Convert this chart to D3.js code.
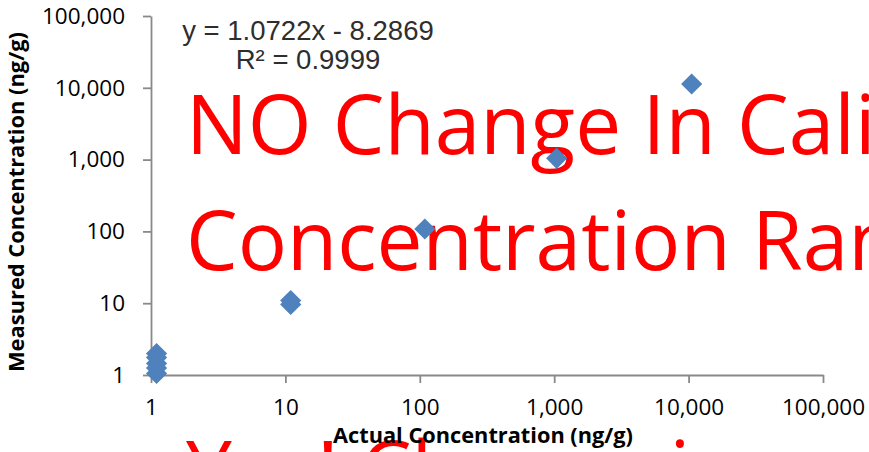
<!DOCTYPE html>
<html>
<head>
<meta charset="utf-8">
<script src="https://cdn.jsdelivr.net/npm/d3@7"></script>
<style>
  html, body { margin: 0; padding: 0; background: #ffffff; }
  svg { display: block; }
</style>
</head>
<body>
<svg id="chart" width="869" height="452"></svg>
<script>
// Calibration check: actual vs measured concentration, both on log axes
const actualConc   = [1.1, 1.1, 1.1, 1.1, 1.1, 10.95, 10.95, 109, 1043, 10540];
const measuredConc = [1.05, 1.25, 1.45, 1.75, 1.99, 9.6, 10.9, 108, 1043, 11300];

const xTickValues = [1, 10, 100, 1000, 10000, 100000];
const yTickValues = [1, 10, 100, 1000, 10000, 100000];

const xTitle = "Actual Concentration (ng/g)";
const yTitle = "Measured Concentration (ng/g)";
const trendLines = ["y = 1.0722x - 8.2869", "R\u00B2 = 0.9999"];
const noteLines = ["NO Change In Calibration", "Concentration Range", "", "Yes! Change in"];

const svg = d3.select("#chart");

const x = d3.scaleLog().domain([1, 100000]).range([151, 823]);
const y = d3.scaleLog().domain([1, 100000]).range([375, 16]);

const axisColor = "#898989";
const tickFont = "'Open Sans', 'Noto Sans', sans-serif";

// Large red annotation sits beneath the chart marks
const note = svg.append("g")
  .attr("font-family", "'Open Sans', 'Noto Sans', sans-serif")
  .attr("font-size", 82)
  .attr("fill", "#ff0000");
const noteBaselines = [154, 270, 386, 500];
noteLines.forEach((t, i) => {
  if (!t) return;
  note.append("text").attr("x", 186).attr("y", noteBaselines[i]).text(t);
});

// X axis
const xAxis = d3.axisBottom(x)
  .tickValues(xTickValues)
  .tickFormat(d3.format(","))
  .tickSize(8)
  .tickSizeOuter(0)
  .tickPadding(16);
const gx = svg.append("g").attr("transform", "translate(0,375)").call(xAxis);
gx.select(".domain").attr("stroke", axisColor).attr("stroke-width", 1.8);
gx.selectAll(".tick line").attr("stroke", axisColor).attr("stroke-width", 1.8);
gx.selectAll(".tick text")
  .attr("font-family", tickFont).attr("font-size", 22.5).attr("fill", "#000");

// Y axis
const yAxis = d3.axisLeft(y)
  .tickValues(yTickValues)
  .tickFormat(d3.format(","))
  .tickSize(8)
  .tickSizeOuter(0)
  .tickPadding(18);
const gy = svg.append("g").attr("transform", "translate(151,0)").call(yAxis);
gy.select(".domain").attr("stroke", axisColor).attr("stroke-width", 1.8);
gy.selectAll(".tick line").attr("stroke", axisColor).attr("stroke-width", 1.8);
gy.selectAll(".tick text")
  .attr("font-family", tickFont).attr("font-size", 22.5).attr("fill", "#000");

svg.selectAll(".domain").attr("fill", "none");

// Data markers: square diamonds
const r = 10.6;
const diamond = `M0,${-r}L${r},0L0,${r}L${-r},0Z`;
svg.append("g")
  .selectAll("path")
  .data(actualConc.map((a, i) => [a, measuredConc[i]]))
  .join("path")
  .attr("d", diamond)
  .attr("transform", d => `translate(${x(d[0])},${y(d[1])})`)
  .attr("fill", "#4f81bd");

// Trendline equation
const eq = svg.append("g")
  .attr("font-family", "'Liberation Sans', Arial, sans-serif")
  .attr("font-size", 27.5)
  .attr("fill", "#2e2e2e")
  .attr("text-anchor", "middle");
eq.append("text").attr("x", 308).attr("y", 40).text(trendLines[0]);
eq.append("text").attr("x", 308).attr("y", 69).text(trendLines[1]);

// Axis titles: bold, condensed to their spans
const xt = svg.append("text")
  .attr("x", 483).attr("y", 443)
  .attr("text-anchor", "middle")
  .attr("font-family", "'Open Sans', sans-serif")
  .attr("font-weight", 700)
  .attr("font-size", 21)
  .attr("textLength", 300)
  .attr("lengthAdjust", "spacingAndGlyphs")
  .attr("fill", "#000")
  .text(xTitle);

const yt = svg.append("text")
  .attr("transform", "translate(24,202) rotate(-90)")
  .attr("text-anchor", "middle")
  .attr("font-family", "'Open Sans', sans-serif")
  .attr("font-weight", 700)
  .attr("font-size", 21)
  .attr("textLength", 340)
  .attr("lengthAdjust", "spacingAndGlyphs")
  .attr("fill", "#000")
  .text(yTitle);
</script>
</body>
</html>
